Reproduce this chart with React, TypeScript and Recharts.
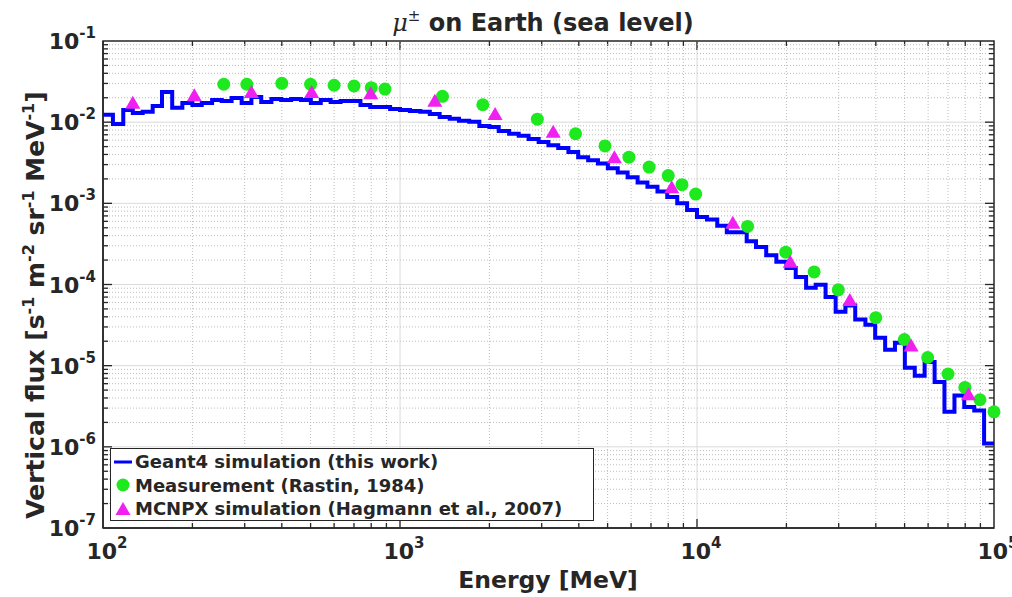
import React from 'react';
import { ComposedChart, Line, Scatter, XAxis, YAxis, ReferenceLine, ReferenceArea, Legend, Label } from 'recharts';

const FONT = '"DejaVu Sans", sans-serif';
const INK = '#262626';

// histogram bin edges: 30 log bins per decade (mantissas), MeV
const binMantissa = [1.00, 1.08, 1.17, 1.26, 1.36, 1.47, 1.58, 1.71, 1.85, 2.00, 2.15, 2.33, 2.51, 2.71, 2.93,
  3.16, 3.41, 3.69, 3.98, 4.30, 4.64, 5.01, 5.41, 5.84, 6.31, 6.81, 7.36, 7.94, 8.58, 9.26];
const binDecades = [100, 1000, 10000];

// Geant4 simulation, flux in each bin [s-1 m-2 sr-1 MeV-1]
const geantFlux = [
  0.0123, 0.0095, 0.0141, 0.0130, 0.0134, 0.0158, 0.0236, 0.0150, 0.0172, 0.0163,
  0.0172, 0.0188, 0.0182, 0.0199, 0.0172, 0.0204, 0.0177, 0.0193, 0.0188, 0.0193,
  0.0188, 0.0172, 0.0188, 0.0177, 0.0182, 0.0182, 0.0163, 0.0154, 0.0154, 0.0145,
  0.0141, 0.0137, 0.0134, 0.0126, 0.0116, 0.0110, 0.0104, 0.0101, 0.0090, 0.0087,
  0.0078, 0.0072, 0.0068, 0.0062, 0.0057, 0.0052, 0.0048, 0.0043, 0.0037, 0.0034,
  0.0031, 0.0027, 0.0024, 0.0021, 0.0018, 0.0016, 0.0014, 0.0012, 0.0010, 0.00083,
  0.00068, 0.00063, 0.00053, 0.00044, 0.00044, 0.00034, 0.00029, 0.00023, 0.00019, 0.00016,
  0.000124, 0.000091, 0.000099, 0.000070, 0.000046, 0.000055, 0.000037, 0.000032, 0.000022, 0.0000157,
  0.0000191, 0.0000094, 0.0000075, 0.0000111, 0.0000063, 0.0000027, 0.0000043, 0.0000031, 0.0000028, 0.0000011,
];

// Measurement (Rastin, 1984)
const rastinEnergy = [255, 305, 400, 500, 600, 700, 800, 890, 1390, 1900, 2900, 3900, 4900, 5900, 6900,
  8000, 8900, 9900, 14800, 19900, 24800, 29900, 40000, 49900, 59800, 70000, 79800, 89700, 100000];
const rastinFlux = [0.0293, 0.0293, 0.0301, 0.0293, 0.0285, 0.0279, 0.0266, 0.0256, 0.0208, 0.0164, 0.0109,
  0.0072, 0.0051, 0.0037, 0.0028, 0.0022, 0.0017, 0.0013, 0.00052, 0.00025, 0.000143, 0.000086, 0.000039,
  0.000021, 0.0000126, 0.0000079, 0.0000054, 0.0000038, 0.0000027];

// MCNPX simulation (Hagmann et al., 2007)
const hagmannEnergy = [126, 203, 316, 504, 797, 1310, 2090, 3280, 5270, 8220, 13200, 20600, 32700, 52600, 82000];
const hagmannFlux = [0.0174, 0.0214, 0.0235, 0.0235, 0.0227, 0.0184, 0.0126, 0.0076, 0.0037, 0.00158,
  0.000578, 0.000191, 0.0000646, 0.0000177, 0.00000446];

const seriesNames = ['Geant4 simulation (this work)', 'Measurement (Rastin, 1984)', 'MCNPX simulation (Hagmann et al., 2007)'];

const xTicks = [100, 1000, 10000, 100000];
const yTicks = [1e-7, 1e-6, 1e-5, 1e-4, 1e-3, 1e-2, 1e-1];
const minorMantissa = [2, 3, 4, 5, 6, 7, 8, 9];

const binEdges = binDecades.flatMap(d => binMantissa.map(m => +(m * d).toPrecision(4))).concat([100000]);
const geantData = binEdges.map((e, i) => ({ e, f: geantFlux[Math.min(i, geantFlux.length - 1)] }));
const rastinData = rastinEnergy.map((e, i) => ({ e, f: rastinFlux[i] }));
const hagmannData = hagmannEnergy.map((e, i) => ({ e, f: hagmannFlux[i] }));

const xMajorGrid = [1000, 10000];
const xMinorGrid = [100, 1000, 10000].flatMap(d => minorMantissa.map(m => m * d));
const yMajorGrid = [1e-6, 1e-5, 1e-4, 1e-3, 1e-2];
const yMinorGrid = [1e-7, 1e-6, 1e-5, 1e-4, 1e-3, 1e-2].flatMap(d => minorMantissa.map(m => +(m * d).toPrecision(3)));

const vGrid = (major: boolean) => (p: any) => {
  const top = Math.min(p.y1, p.y2), bot = Math.max(p.y1, p.y2);
  const t = major ? 9 : 5;
  return (
    <g>
      <line x1={p.x1} x2={p.x1} y1={top} y2={bot} stroke={major ? '#dadada' : '#bcbcbc'}
        strokeDasharray={major ? undefined : '1 2'} strokeWidth={1} />
      <line x1={p.x1} x2={p.x1} y1={bot} y2={bot - t} stroke={INK} strokeWidth={1.3} />
      <line x1={p.x1} x2={p.x1} y1={top} y2={top + t} stroke={INK} strokeWidth={1.3} />
    </g>
  );
};

const hGrid = (major: boolean) => (p: any) => {
  const left = Math.min(p.x1, p.x2), right = Math.max(p.x1, p.x2);
  const t = major ? 9 : 5;
  return (
    <g>
      <line x1={left} x2={right} y1={p.y1} y2={p.y1} stroke={major ? '#dadada' : '#bcbcbc'}
        strokeDasharray={major ? undefined : '1 2'} strokeWidth={1} />
      <line x1={left} x2={left + t} y1={p.y1} y2={p.y1} stroke={INK} strokeWidth={1.3} />
      <line x1={right} x2={right - t} y1={p.y1} y2={p.y1} stroke={INK} strokeWidth={1.3} />
    </g>
  );
};

const XTick = (p: any) => {
  const exp = Math.round(Math.log10(p.payload.value));
  return (
    <text x={p.x + 4} y={p.y + 31} textAnchor="middle" fontFamily={FONT} fontWeight="bold" fontSize={22} fill={INK}>
      <tspan>10</tspan>
      <tspan dy={-11} fontSize={15}>{exp}</tspan>
    </text>
  );
};

const YTick = (p: any) => {
  const exp = Math.round(Math.log10(p.payload.value));
  return (
    <text x={p.x - 7} y={p.y + 8} textAnchor="end" fontFamily={FONT} fontWeight="bold" fontSize={22} fill={INK}>
      <tspan>10</tspan>
      <tspan dy={-11} fontSize={15}>{exp}</tspan>
    </text>
  );
};

const GreenDot = (p: any) => <circle cx={p.cx} cy={p.cy} r={6.5} fill="#1ee81e" />;

const MagentaTri = (p: any) => {
  const { cx, cy } = p;
  return <polygon points={`${cx},${cy - 7} ${cx - 7.5},${cy + 6} ${cx + 7.5},${cy + 6}`} fill="#f020f0" />;
};

const Title = () => (
  <text x={543} y={31} textAnchor="middle" fontFamily={FONT} fontSize={24} fill={INK}>
    <tspan fontFamily='"DejaVu Serif", serif' fontStyle="italic">μ</tspan>
    <tspan dy={-10} fontSize={15}>±</tspan>
    <tspan dy={10} fontWeight="bold"> on Earth (sea level)</tspan>
  </text>
);

const XTitle = () => (
  <text x={548} y={588} textAnchor="middle" fontFamily={FONT} fontWeight="bold" fontSize={23.5} fill={INK}>
    Energy [MeV]
  </text>
);

const YTitle = () => (
  <text transform="translate(44, 305) rotate(-90)" textAnchor="middle" fontFamily={FONT} fontWeight="bold" fontSize={25} fill={INK}>
    Vertical flux [s<tspan dy={-10} fontSize={16}>-1</tspan>
    <tspan dy={10}> m</tspan><tspan dy={-10} fontSize={16}>-2</tspan>
    <tspan dy={10}> sr</tspan><tspan dy={-10} fontSize={16}>-1</tspan>
    <tspan dy={10}> MeV</tspan><tspan dy={-10} fontSize={16}>-1</tspan>
    <tspan dy={10}>]</tspan>
  </text>
);

const legendIcon = (name: string) => {
  const i = seriesNames.indexOf(name);
  if (i === 0) return <line x1={1} x2={19} y1={10} y2={10} stroke="#0000ff" strokeWidth={3} />;
  if (i === 1) return <circle cx={10} cy={10} r={6.5} fill="#1ee81e" />;
  return <polygon points="10,3 2.5,16 17.5,16" fill="#f020f0" />;
};

const LegendBox = (props: any) => {
  const items = [...(props.payload || [])].sort(
    (a: any, b: any) => seriesNames.indexOf(a.value) - seriesNames.indexOf(b.value));
  return (
    <div style={{
      width: 484, height: 73, boxSizing: 'border-box', border: `1.5px solid ${INK}`, background: '#fff',
      fontFamily: FONT, fontWeight: 'bold', fontSize: 18, color: INK, padding: '1px 0 0 2px',
    }}>
      {items.map((entry: any) => (
        <div key={entry.value} style={{ display: 'flex', alignItems: 'center', height: 23.5, whiteSpace: 'nowrap' }}>
          <svg width={21} height={20} style={{ marginRight: 1 }}>{legendIcon(entry.value)}</svg>
          <span>{entry.value}</span>
        </div>
      ))}
    </div>
  );
};

export default function App() {
  return (
    <div style={{ position: 'absolute', left: 0, top: 0, background: '#fff' }}>
      <ComposedChart width={1012} height={597} margin={{ top: 41, right: 18, left: 0, bottom: 0 }}>
        <XAxis type="number" dataKey="e" scale="log" domain={[100, 100000]} ticks={xTicks} interval={0}
          height={69} tickSize={0} tickMargin={0} tickLine={false} tick={<XTick />}
          axisLine={{ stroke: INK, strokeWidth: 1.5 }}>
          <Label content={<XTitle />} />
        </XAxis>
        <YAxis type="number" dataKey="f" scale="log" domain={[1e-7, 0.1]} ticks={yTicks} interval={0}
          width={103} tickSize={0} tickMargin={0} tickLine={false} tick={<YTick />}
          axisLine={{ stroke: INK, strokeWidth: 1.5 }}>
          <Label content={<YTitle />} />
        </YAxis>
        {xMinorGrid.map(v => <ReferenceLine key={'xm' + v} x={v} shape={vGrid(false)} />)}
        {xMajorGrid.map(v => <ReferenceLine key={'xM' + v} x={v} shape={vGrid(true)} />)}
        {yMinorGrid.map(v => <ReferenceLine key={'ym' + v} y={v} shape={hGrid(false)} />)}
        {yMajorGrid.map(v => <ReferenceLine key={'yM' + v} y={v} shape={hGrid(true)} />)}
        <ReferenceArea x1={100} x2={100000} y1={1e-7} y2={0.1} fill="none" stroke={INK} strokeWidth={1.5}
          fillOpacity={0} label={<Title />} />
        <Line data={geantData} dataKey="f" name={seriesNames[0]} type="stepAfter"
          stroke="#0000ff" strokeWidth={4} dot={false} isAnimationActive={false} />
        <Scatter data={rastinData} dataKey="f" name={seriesNames[1]} fill="#1ee81e"
          shape={<GreenDot />} isAnimationActive={false} />
        <Scatter data={hagmannData} dataKey="f" name={seriesNames[2]} fill="#f020f0"
          shape={<MagentaTri />} isAnimationActive={false} />
        <Legend layout="vertical" align="center" verticalAlign="middle" content={<LegendBox />}
          wrapperStyle={{ left: 110, top: 448, width: 484, height: 73 }} />
      </ComposedChart>
    </div>
  );
}
